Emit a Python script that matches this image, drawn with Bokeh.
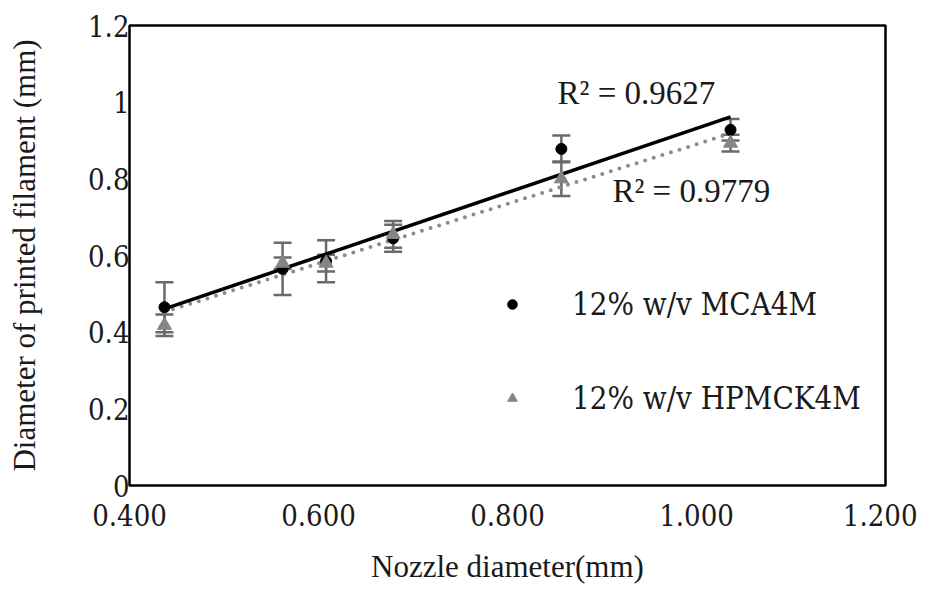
import numpy as np
from bokeh.plotting import figure
from bokeh.models import (ColumnDataSource, Whisker, TeeHead, FixedTicker, Legend,
                          LegendItem, Label, Range1d)
from bokeh.embed import file_html
from bokeh.resources import INLINE

# ---- data ----
nozzle = [0.437, 0.562, 0.608, 0.679, 0.857, 1.036]
mca = [0.465, 0.565, 0.585, 0.645, 0.878, 0.928]
mca_err = [0.065, 0.068, 0.055, 0.035, 0.035, 0.028]
hpmc = [0.418, 0.580, 0.580, 0.655, 0.800, 0.893]
hpmc_err = [0.028, 0.015, 0.022, 0.035, 0.045, 0.022]
series_names = ["12% w/v MCA4M", "12% w/v HPMCK4M"]
r2_labels = ["R\u00b2 = 0.9627", "R\u00b2 = 0.9779"]
x_ticks = [0.4, 0.6, 0.8, 1.0, 1.2]
x_tick_labels = ["0.400", "0.600", "0.800", "1.000", "1.200"]
y_ticks = [0, 0.2, 0.4, 0.6, 0.8, 1.0, 1.2]
y_tick_labels = ["0", "0.2", "0.4", "0.6", "0.8", "1", "1.2"]

FONT = "Liberation Serif"
FONT2 = "DejaVu Serif Condensed"
TXT = "#1a1a1a"

p = figure(frame_width=756, frame_height=460, output_backend="svg",
           toolbar_location=None,
           x_range=Range1d(0.4, 1.2), y_range=Range1d(0, 1.2),
           min_border_left=129, min_border_right=32, min_border_top=25,
           min_border_bottom=88)
p.grid.visible = False
p.outline_line_color = "black"
p.outline_line_width = 2.5

x = np.array(nozzle)
src_m = ColumnDataSource(dict(x=x, y=mca, lo=np.array(mca) - np.array(mca_err),
                              hi=np.array(mca) + np.array(mca_err)))
src_h = ColumnDataSource(dict(x=x, y=hpmc, lo=np.array(hpmc) - np.array(hpmc_err),
                              hi=np.array(hpmc) + np.array(hpmc_err)))

# trendlines (least squares from data)
xs = np.array([x.min(), x.max()])
km, bm = np.polyfit(x, mca, 1)
kh, bh = np.polyfit(x, hpmc, 1)
p.line(xs, kh * xs + bh, line_color="#8c8c8c", line_width=4, line_dash="0 9",
       line_cap="round")
p.line(xs, km * xs + bm, line_color="black", line_width=3.5)

ebar_color = "#6a6a6a"
for s in (src_m, src_h):
    w = Whisker(source=s, base="x", lower="lo", upper="hi", line_color=ebar_color,
                line_width=2.5,
                upper_head=TeeHead(size=18, line_color=ebar_color, line_width=2.5),
                lower_head=TeeHead(size=18, line_color=ebar_color, line_width=2.5))
    p.add_layout(w)

r_m = p.scatter("x", "y", source=src_m, marker="circle", size=11, color="black")
r_h = p.scatter("x", "y", source=src_h, marker="triangle", size=14, color="#858585")

# axes
for ax in (p.xaxis[0], p.yaxis[0]):
    ax.major_tick_line_color = None
    ax.minor_tick_line_color = None
    ax.major_tick_out = 0
    ax.major_tick_in = 0
    ax.minor_tick_out = 0
    ax.axis_line_color = None
    ax.major_label_text_font = FONT2
    ax.major_label_text_font_size = "29px"
    ax.major_label_text_font_style = "normal"
    ax.major_label_text_color = TXT
    ax.axis_label_text_font = FONT
    ax.axis_label_text_font_size = "31px"
    ax.axis_label_text_font_style = "normal"
    ax.axis_label_text_color = TXT

p.xaxis.ticker = FixedTicker(ticks=x_ticks)
p.xaxis.major_label_overrides = {t: l for t, l in zip(x_ticks, x_tick_labels)}
p.yaxis.ticker = FixedTicker(ticks=y_ticks)
p.yaxis.major_label_overrides = {t: l for t, l in zip(y_ticks, y_tick_labels)}
p.xaxis.major_label_standoff = 18
p.yaxis.major_label_standoff = 0
p.xaxis.axis_label = "Nozzle diameter(mm)"
p.yaxis.axis_label = "Diameter of printed filament (mm)"
p.xaxis.axis_label_standoff = 20
p.yaxis.axis_label_standoff = 43

legend = Legend(items=[LegendItem(label=series_names[0], renderers=[r_m]),
                       LegendItem(label=series_names[1], renderers=[r_h])],
                location=(371, 69), border_line_color=None, background_fill_alpha=0,
                padding=0, margin=0, spacing=58, label_height=32, glyph_height=32,
                glyph_width=24, label_standoff=48,
                label_text_font=FONT2, label_text_font_style="normal",
                label_text_font_size="31px",
                label_text_color=TXT)
p.add_layout(legend)

p.add_layout(Label(x=0.853, y=0.976, text=r2_labels[0], text_font=FONT,
                   text_font_size="33px", text_color=TXT))
p.add_layout(Label(x=0.911, y=0.722, text=r2_labels[1], text_font=FONT,
                   text_font_size="33px", text_color=TXT))

open("out.html", "w").write(file_html(p, INLINE))
